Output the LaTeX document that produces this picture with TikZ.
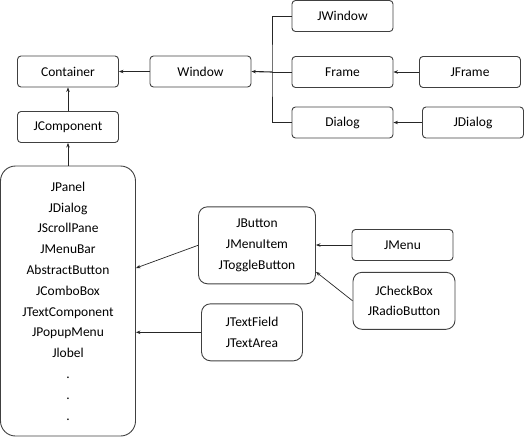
\documentclass[tikz,border=0pt]{standalone}
\usepackage{fontspec}
\setmainfont{Carlito}
\usetikzlibrary{positioning,arrows.meta}

\begin{document}
\begin{tikzpicture}[
  x=1pt,y=-1pt,
  >={Stealth[length=4.5pt,width=3.5pt]},
  every node/.style={font=\fontsize{13.5}{20.8}\selectfont},
  cls/.style={draw=black!75,line width=0.9pt,rounded corners=3.5pt,
    minimum width=101pt,minimum height=31pt,inner sep=0pt},
  group/.style={draw=black!75,line width=0.9pt,rounded corners=9pt,
    align=center,inner sep=0pt},
  link/.style={->,black!85,line width=0.7pt}
]
\useasboundingbox (0,0) rectangle (524,437);

% obere Hierarchie
\node[cls] (container) at (68,71.5) {Container};
\node[cls] (window) at (200.5,71.5) {Window};
\node[cls] (jcomp) at (68,127) {JComponent};
\node[cls] (jwindow) at (342.5,16) {JWindow};
\node[cls] (frame) at (342.5,72) {Frame};
\node[cls] (jframe) at (470,72) {JFrame};
\node[cls] (dialog) at (342.5,122.5) {Dialog};
\node[cls] (jdialog) at (473,122.5) {JDialog};

% Sammelbox der Swing-Komponenten
\node[group,rounded corners=15pt,minimum width=135pt,minimum height=270pt]
  (panel) at (68,301)
  {JPanel\\JDialog\\JScrollPane\\JMenuBar\\AbstractButton\\JComboBox\\
   JTextComponent\\JPopupMenu\\Jlobel\\.\\.\\.};

\node[group,minimum width=117pt,minimum height=77pt] (buttons) at (257,245.3)
  {JButton\\JMenuItem\\JToggleButton};
\node[group,minimum width=101pt,minimum height=57pt] (texts) at (252,332.3)
  {JTextField\\JTextArea};
\node[cls] (jmenu) at (402.5,245) {JMenu};
\node[group,minimum width=102pt,minimum height=57pt] (toggles) at (404,300.8)
  {JCheckBox\\JRadioButton};

% Verbindungen
\coordinate (hub) at (272,72);
\coordinate (btn in) at (136,268);
\draw[black!85,line width=0.7pt] (jwindow.west) -| (hub) |- (dialog.west);
\draw[black!85,line width=0.7pt] (frame.west) -- (hub);
\draw[link,line width=1.1pt] (hub) -- (window.east);
\draw[link] (window) -- (container);
\draw[link] (jcomp) -- (container);
\draw[link] (panel) -- (jcomp);
\draw[link] (jframe) -- (frame);
\draw[link] (jdialog) -- (dialog);
\draw[link] (buttons.west) -- (btn in);
\draw[link] (texts.west) -- (texts.west -| panel.east);
\draw[link] (jmenu.west) -- (jmenu.west -| buttons.east);
\draw[link] (toggles.west) -- (buttons.east |- toggles.north);
\end{tikzpicture}
\end{document}
